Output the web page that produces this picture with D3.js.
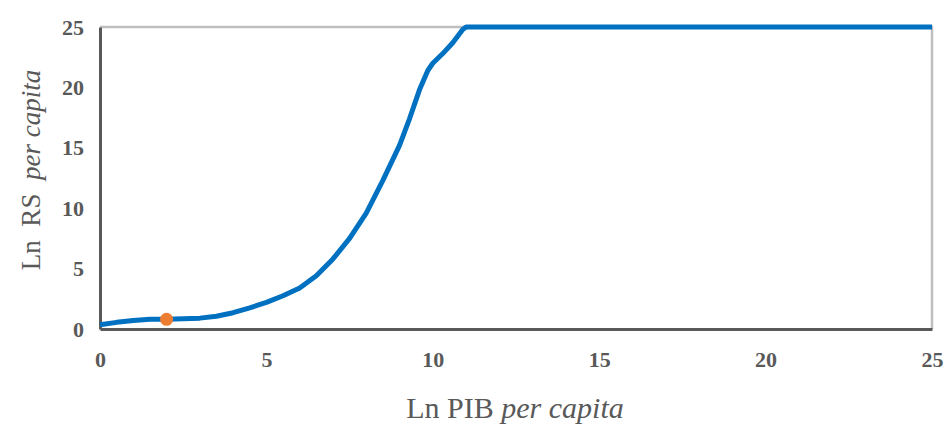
<!DOCTYPE html>
<html>
<head>
<meta charset="utf-8">
<script src="https://cdn.jsdelivr.net/npm/d3@7"></script>
<style>
  html, body { margin: 0; padding: 0; background: #fff; }
  svg { display: block; }
</style>
</head>
<body>
<div id="chart"></div>
<script>
// data
const lnPib = [0, 0.5, 1, 1.5, 2, 2.5, 3, 3.5, 4, 4.5, 5, 5.5, 6, 6.5, 7, 7.5, 8, 8.5, 9, 9.3, 9.6, 9.85, 10, 10.3, 10.6, 10.9, 11, 25]
const lnRs = [0.35, 0.55, 0.7, 0.8, 0.8, 0.85, 0.9, 1.05, 1.35, 1.75, 2.2, 2.75, 3.4, 4.4, 5.8, 7.5, 9.6, 12.3, 15.2, 17.4, 19.8, 21.4, 22.0, 22.8, 23.7, 24.8, 25, 25]
const pointX = [2]
const pointY = [0.8]
const xTicks = [0, 5, 10, 15, 20, 25]
const yTicks = [0, 5, 10, 15, 20, 25]

const width = 948
const height = 425
const margin = { top: 27, right: 16, bottom: 96, left: 100 }

const svg = d3
  .select('#chart')
  .append('svg')
  .attr('width', width)
  .attr('height', height)

const x = d3
  .scaleLinear()
  .domain([0, 25])
  .range([margin.left, width - margin.right])

const y = d3
  .scaleLinear()
  .domain([0, 25])
  .range([height - margin.bottom, margin.top])

const serif = '"Liberation Serif", "Times New Roman", serif'
const textColor = '#595959'

// light frame on top and right
svg
  .append('path')
  .attr('d', `M${x(0)},${y(25)}H${x(25)}V${y(0)}`)
  .attr('fill', 'none')
  .attr('stroke', '#bfbfbf')
  .attr('stroke-width', 2.5)

// axes
const xAxis = svg
  .append('g')
  .attr('transform', `translate(0,${y(0)})`)
  .call(d3.axisBottom(x).tickValues(xTicks).tickSize(0).tickPadding(22))

const yAxis = svg
  .append('g')
  .attr('transform', `translate(${x(0)},0)`)
  .call(d3.axisLeft(y).tickValues(yTicks).tickSize(0).tickPadding(16))

;[xAxis, yAxis].forEach(g => {
  g.select('.domain').attr('stroke', '#595959').attr('stroke-width', 3)
  g.selectAll('text')
    .attr('fill', textColor)
    .style('font-family', serif)
    .style('font-size', '22px')
    .style('font-weight', 'bold')
})

// curve
const line = d3
  .line()
  .x(d => x(d[0]))
  .y(d => y(d[1]))

svg
  .append('path')
  .datum(d3.zip(lnPib, lnRs))
  .attr('d', line)
  .attr('fill', 'none')
  .attr('stroke', '#0070c0')
  .attr('stroke-width', 5)
  .attr('stroke-linejoin', 'round')

svg
  .selectAll('circle.pt')
  .data(d3.zip(pointX, pointY))
  .enter()
  .append('circle')
  .attr('class', 'pt')
  .attr('cx', d => x(d[0]))
  .attr('cy', d => y(d[1]))
  .attr('r', 6.5)
  .attr('fill', '#ed7d31')

// axis titles
const xTitle = svg
  .append('text')
  .attr('x', (x(0) + x(25)) / 2 - 1)
  .attr('y', 418)
  .attr('text-anchor', 'middle')
  .attr('fill', textColor)
  .style('font-family', serif)
  .style('font-size', '30px')
xTitle.append('tspan').text('Ln PIB ')
xTitle.append('tspan').style('font-style', 'italic').text('per capita')

const yTitle = svg
  .append('text')
  .attr('transform', `translate(40,${170}) rotate(-90)`)
  .attr('text-anchor', 'middle')
  .attr('fill', textColor)
  .style('font-family', serif)
  .style('font-size', '27px')
  .attr('xml:space', 'preserve')
yTitle.append('tspan').text('Ln  RS  ')
yTitle.append('tspan').style('font-style', 'italic').text('per capita')
</script>
</body>
</html>
